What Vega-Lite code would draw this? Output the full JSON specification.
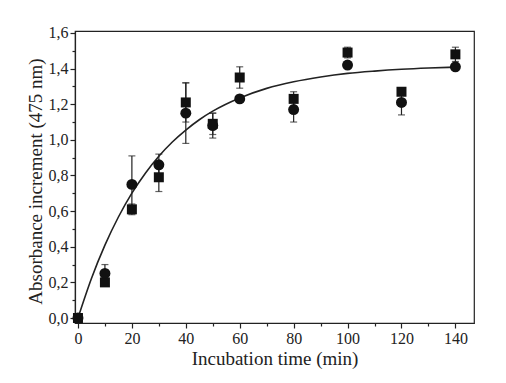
{
  "$schema": "https://vega.github.io/schema/vega-lite/v6.json",
  "autosize": {"type": "none"},
  "padding": {"left": 75, "top": 31, "right": 32, "bottom": 60},
  "width": 399,
  "height": 292,
  "background": "white",
  "config": {
    "view": {"stroke": "#222", "strokeWidth": 1.2},
    "font": "Liberation Serif",
    "axis": {
      "grid": false,
      "domainColor": "#222",
      "domainWidth": 1.2,
      "tickColor": "#222",
      "tickWidth": 1.2,
      "labelColor": "#222",
      "titleColor": "#222",
      "labelFont": "Liberation Serif",
      "titleFont": "Liberation Serif",
      "labelFontSize": 16,
      "titleFontSize": 19,
      "titleFontWeight": "normal"
    }
  },
  "datasets": {
    "pts": [
      {"time": 0, "series": "square", "value": 0.0, "lo": 0.0, "hi": 0.0},
      {"time": 10, "series": "square", "value": 0.20, "lo": 0.18, "hi": 0.22},
      {"time": 20, "series": "square", "value": 0.61, "lo": 0.58, "hi": 0.64},
      {"time": 30, "series": "square", "value": 0.79, "lo": 0.71, "hi": 0.87},
      {"time": 40, "series": "square", "value": 1.21, "lo": 1.10, "hi": 1.32},
      {"time": 50, "series": "square", "value": 1.09, "lo": 1.03, "hi": 1.15},
      {"time": 60, "series": "square", "value": 1.35, "lo": 1.29, "hi": 1.41},
      {"time": 80, "series": "square", "value": 1.23, "lo": 1.19, "hi": 1.27},
      {"time": 100, "series": "square", "value": 1.49, "lo": 1.46, "hi": 1.52},
      {"time": 120, "series": "square", "value": 1.27, "lo": 1.25, "hi": 1.29},
      {"time": 140, "series": "square", "value": 1.48, "lo": 1.44, "hi": 1.52},
      {"time": 0, "series": "circle", "value": 0.0, "lo": 0.0, "hi": 0.0},
      {"time": 10, "series": "circle", "value": 0.25, "lo": 0.20, "hi": 0.30},
      {"time": 20, "series": "circle", "value": 0.75, "lo": 0.59, "hi": 0.91},
      {"time": 30, "series": "circle", "value": 0.86, "lo": 0.80, "hi": 0.92},
      {"time": 40, "series": "circle", "value": 1.15, "lo": 0.98, "hi": 1.32},
      {"time": 50, "series": "circle", "value": 1.08, "lo": 1.01, "hi": 1.15},
      {"time": 60, "series": "circle", "value": 1.23, "lo": 1.21, "hi": 1.25},
      {"time": 80, "series": "circle", "value": 1.17, "lo": 1.10, "hi": 1.24},
      {"time": 100, "series": "circle", "value": 1.42, "lo": 1.41, "hi": 1.43},
      {"time": 120, "series": "circle", "value": 1.21, "lo": 1.14, "hi": 1.28},
      {"time": 140, "series": "circle", "value": 1.41, "lo": 1.40, "hi": 1.42}
    ],
    "fit": [
      {"time": 0, "value": 0.0},
      {"time": 5, "value": 0.222},
      {"time": 10, "value": 0.409},
      {"time": 15, "value": 0.567},
      {"time": 20, "value": 0.701},
      {"time": 25, "value": 0.813},
      {"time": 30, "value": 0.908},
      {"time": 35, "value": 0.988},
      {"time": 40, "value": 1.055},
      {"time": 45, "value": 1.113},
      {"time": 50, "value": 1.161},
      {"time": 60, "value": 1.235},
      {"time": 70, "value": 1.289},
      {"time": 80, "value": 1.326},
      {"time": 90, "value": 1.353},
      {"time": 100, "value": 1.373},
      {"time": 110, "value": 1.386},
      {"time": 120, "value": 1.396},
      {"time": 130, "value": 1.403},
      {"time": 140, "value": 1.408}
    ]
  },
  "encoding": {
    "x": {
      "field": "time", "type": "quantitative",
      "scale": {"domain": [-1.1, 146.9], "nice": false, "zero": false},
      "axis": {
        "title": "Incubation time (min)",
        "values": [0, 10, 20, 30, 40, 50, 60, 70, 80, 90, 100, 110, 120, 130, 140],
        "labelExpr": "datum.value % 20 === 0 ? datum.label : ''",
        "tickSize": {"condition": {"test": "datum.value % 20 !== 0", "value": 3}, "value": 5},
        "labelPadding": 2,
        "titlePadding": 3,
        "labelFlush": false
      }
    },
    "y": {
      "field": "value", "type": "quantitative",
      "scale": {"domain": [-0.028, 1.611], "nice": false, "zero": false},
      "axis": {
        "title": "Absorbance increment (475 nm)",
        "values": [0, 0.1, 0.2, 0.3, 0.4, 0.5, 0.6, 0.7, 0.8, 0.9, 1.0, 1.1, 1.2, 1.3, 1.4, 1.5, 1.6],
        "labelExpr": "round(datum.value * 10) % 2 === 0 ? replace(format(datum.value, '.1f'), '.', ',') : ''",
        "tickSize": {"condition": {"test": "round(datum.value * 10) % 2 !== 0", "value": 3}, "value": 5},
        "labelPadding": 2,
        "titlePadding": 3,
        "titleY": 150,
        "labelFlush": false
      }
    }
  },
  "layer": [
    {
      "data": {"name": "fit"},
      "mark": {"type": "line", "color": "#222", "strokeWidth": 1.6, "interpolate": "monotone"},
      "encoding": {}
    },
    {
      "data": {"name": "pts"},
      "mark": {"type": "rule", "color": "#222", "strokeWidth": 1.2},
      "encoding": {"y": {"field": "lo", "type": "quantitative"}, "y2": {"field": "hi"}}
    },
    {
      "data": {"name": "pts"},
      "mark": {"type": "tick", "color": "#222", "orient": "horizontal", "size": 7, "thickness": 1.2},
      "encoding": {"y": {"field": "lo", "type": "quantitative"}}
    },
    {
      "data": {"name": "pts"},
      "mark": {"type": "tick", "color": "#222", "orient": "horizontal", "size": 7, "thickness": 1.2},
      "encoding": {"y": {"field": "hi", "type": "quantitative"}}
    },
    {
      "data": {"name": "pts"},
      "transform": [{"filter": "datum.series === 'square'"}],
      "mark": {"type": "point", "shape": "square", "filled": true, "color": "#111", "opacity": 1, "size": 100}
    },
    {
      "data": {"name": "pts"},
      "transform": [{"filter": "datum.series === 'circle'"}],
      "mark": {"type": "point", "shape": "circle", "filled": true, "color": "#111", "opacity": 1, "size": 120}
    }
  ]
}
